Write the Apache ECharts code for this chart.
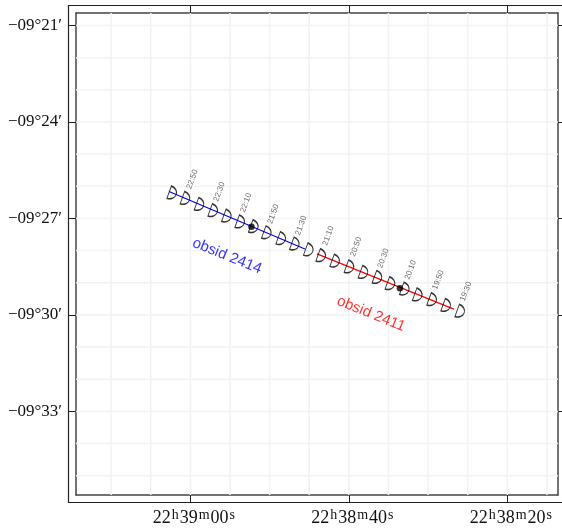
<!DOCTYPE html>
<html><head><meta charset="utf-8">
<style>html,body{margin:0;padding:0;background:#fff}#c{width:562px;height:529px}</style>
<script src="https://cdn.jsdelivr.net/npm/echarts@6/dist/echarts.min.js"></script>
</head><body><div id="c"></div>
<script>
// x: right-ascension seconds past 22h38m; y: arcminutes south of -09 deg
const raTicks = [20, 40, 60];
const raTickLabels = ['22{s|h}38{s|m}20{s|s}', '22{s|h}38{s|m}40{s|s}', '22{s|h}39{s|m}00{s|s}'];
const decTicks = [21, 24, 27, 30, 33];
const decTickLabels = ['\u221209\u00b021\u2032', '\u221209\u00b024\u2032', '\u221209\u00b027\u2032', '\u221209\u00b030\u2032', '\u221209\u00b033\u2032'];
const raGrid = [15, 20, 25, 30, 35, 40, 45, 50, 55, 60, 65, 70];
const decGrid = [21, 22, 23, 24, 25, 26, 27, 28, 29, 30, 31, 32, 33, 34, 35];
const blueLine = [[62.70, 26.16], [45.54, 27.95]];
const redLine = [[44.03, 28.10], [26.74, 29.82]];
const blueMarks = [[62.23,26.22],[60.56,26.39],[58.79,26.58],[57.06,26.77],[55.34,26.94],[53.65,27.12],[51.94,27.27],[50.30,27.46],[48.48,27.64],[46.76,27.81],[45.00,27.99]];
const redMarks = [[43.43,28.17],[41.67,28.34],[39.86,28.52],[38.09,28.69],[36.33,28.85],[34.69,29.04],[32.88,29.21],[31.24,29.39],[29.43,29.54],[27.66,29.72],[25.89,29.90]];
const dots = [[52.29,27.26],[33.55,29.17]];
const timeLabels = ['22:50','22:30','22:10','21:50','21:30','21:10','20:50','20:30','20:10','19:50','19:30'];
const timeX = [59.76,56.35,52.98,49.54,46.04,42.60,39.10,35.66,32.20,28.72,25.22];
const timeY = [25.78,26.17,26.51,26.86,27.22,27.54,27.88,28.24,28.60,28.91,29.27];
const obsNames = ['obsid 2414','obsid 2411'];
const obsPos = [[55.38,28.17],[37.21,29.97]];
const obsColors = ['#0000ff','#ff0000'];

const xMin = 13.6, xMax = 74.44, yMin = 20.61, yMax = 35.6;
const serif = '"Liberation Serif","Times New Roman",serif';
const sans = '"Liberation Sans",Arial,sans-serif';
const frame = {show:true, lineStyle:{color:'#444', width:1.5}};
const outer = {show:true, onZero:false, lineStyle:{color:'#222', width:1.2}};
const rLabels = v => raTickLabels[raTicks.indexOf(v)];
const dLabels = v => decTickLabels[decTicks.indexOf(v)];
const halfDisc = 'path://M0 -10 A10 10 0 0 1 0 10 Z';

function xAx(pos, labelled){return {type:'value', gridIndex:0, position:pos, inverse:true, min:xMin, max:xMax,
  axisLine:{...frame, onZero:false}, splitLine:{show:false},
  axisTick:{show:true, inside:false, length:7, customValues:raTicks, lineStyle:{color:'#222', width:1}},
  axisLabel:labelled?{show:true, customValues:raTicks, formatter:rLabels, margin:13, padding:[0,0,0,8], fontFamily:serif, fontSize:18, color:'#111',
    rich:{s:{fontFamily:serif, fontSize:14, color:'#111', verticalAlign:'top', padding:[0,1,6,1]}}}:{show:false}};}
function yAx(pos, labelled){return {type:'value', gridIndex:0, position:pos, inverse:true, min:yMin, max:yMax,
  axisLine:{...frame, onZero:false}, splitLine:{show:false},
  axisTick:{show:true, inside:false, length:7, customValues:decTicks, lineStyle:{color:'#222', width:1}},
  axisLabel:labelled?{show:true, customValues:decTicks, formatter:dLabels, margin:14, padding:[2,0,0,0], fontFamily:serif, fontSize:17, color:'#111'}:{show:false}};}
const outerAx = (pos) => ({type:'value', gridIndex:1, position:pos, min:0, max:1, axisLine:outer, axisTick:{show:false}, axisLabel:{show:false}, splitLine:{show:false}});

const option = {
  animation:false,
  backgroundColor:'#fff',
  grid:[
    {left:76, right:4, top:13, bottom:34, show:false},
    {left:68.5, right:0, top:5.5, bottom:26.5, show:false}
  ],
  xAxis:[xAx('bottom',true), xAx('top',false), outerAx('bottom'), outerAx('top')],
  yAxis:[yAx('left',true), yAx('right',false), outerAx('left')],
  series:[
    {type:'line', silent:true, symbol:'none', data:raGrid.flatMap(v=>[[v,yMin],[v,yMax],[null,null]]),
      connectNulls:false, lineStyle:{color:'#f2f2f2', width:1.5}, z:1},
    {type:'line', silent:true, symbol:'none', data:decGrid.flatMap(v=>[[xMin,v],[xMax,v],[null,null]]),
      connectNulls:false, lineStyle:{color:'#f2f2f2', width:1.5}, z:1},
    {type:'line', symbol:'none', data:blueLine, lineStyle:{color:'#0000ff', width:1.2}, z:4},
    {type:'line', symbol:'none', data:redLine, lineStyle:{color:'#ff0000', width:1.2}, z:4},
    {type:'scatter', data:blueMarks.concat(redMarks), symbol:halfDisc, symbolKeepAspect:false, symbolSize:[7.5,13], symbolRotate:-20,
      itemStyle:{color:'rgba(255,255,255,0)', borderColor:'#000', borderWidth:1.2}, z:5},
    {type:'scatter', data:dots, symbol:'circle', symbolSize:6.5, itemStyle:{color:'#000'}, z:6},
    {type:'scatter', symbolSize:0, z:7,
      data:timeLabels.map((t,i)=>({value:[timeX[i],timeY[i]], label:{formatter:t}})),
      label:{show:true, position:'inside', rotate:70, fontFamily:sans, fontSize:8, color:'#444'}},
    ...obsNames.map((n,i)=>({type:'scatter', symbolSize:0, z:7, data:[{value:obsPos[i], label:{formatter:n}}],
      label:{show:true, position:'inside', rotate:-22, fontFamily:sans, fontSize:15, color:obsColors[i]}}))
  ]
};
echarts.init(document.getElementById('c'),null,{renderer:'canvas'}).setOption(option);
</script></body></html>
